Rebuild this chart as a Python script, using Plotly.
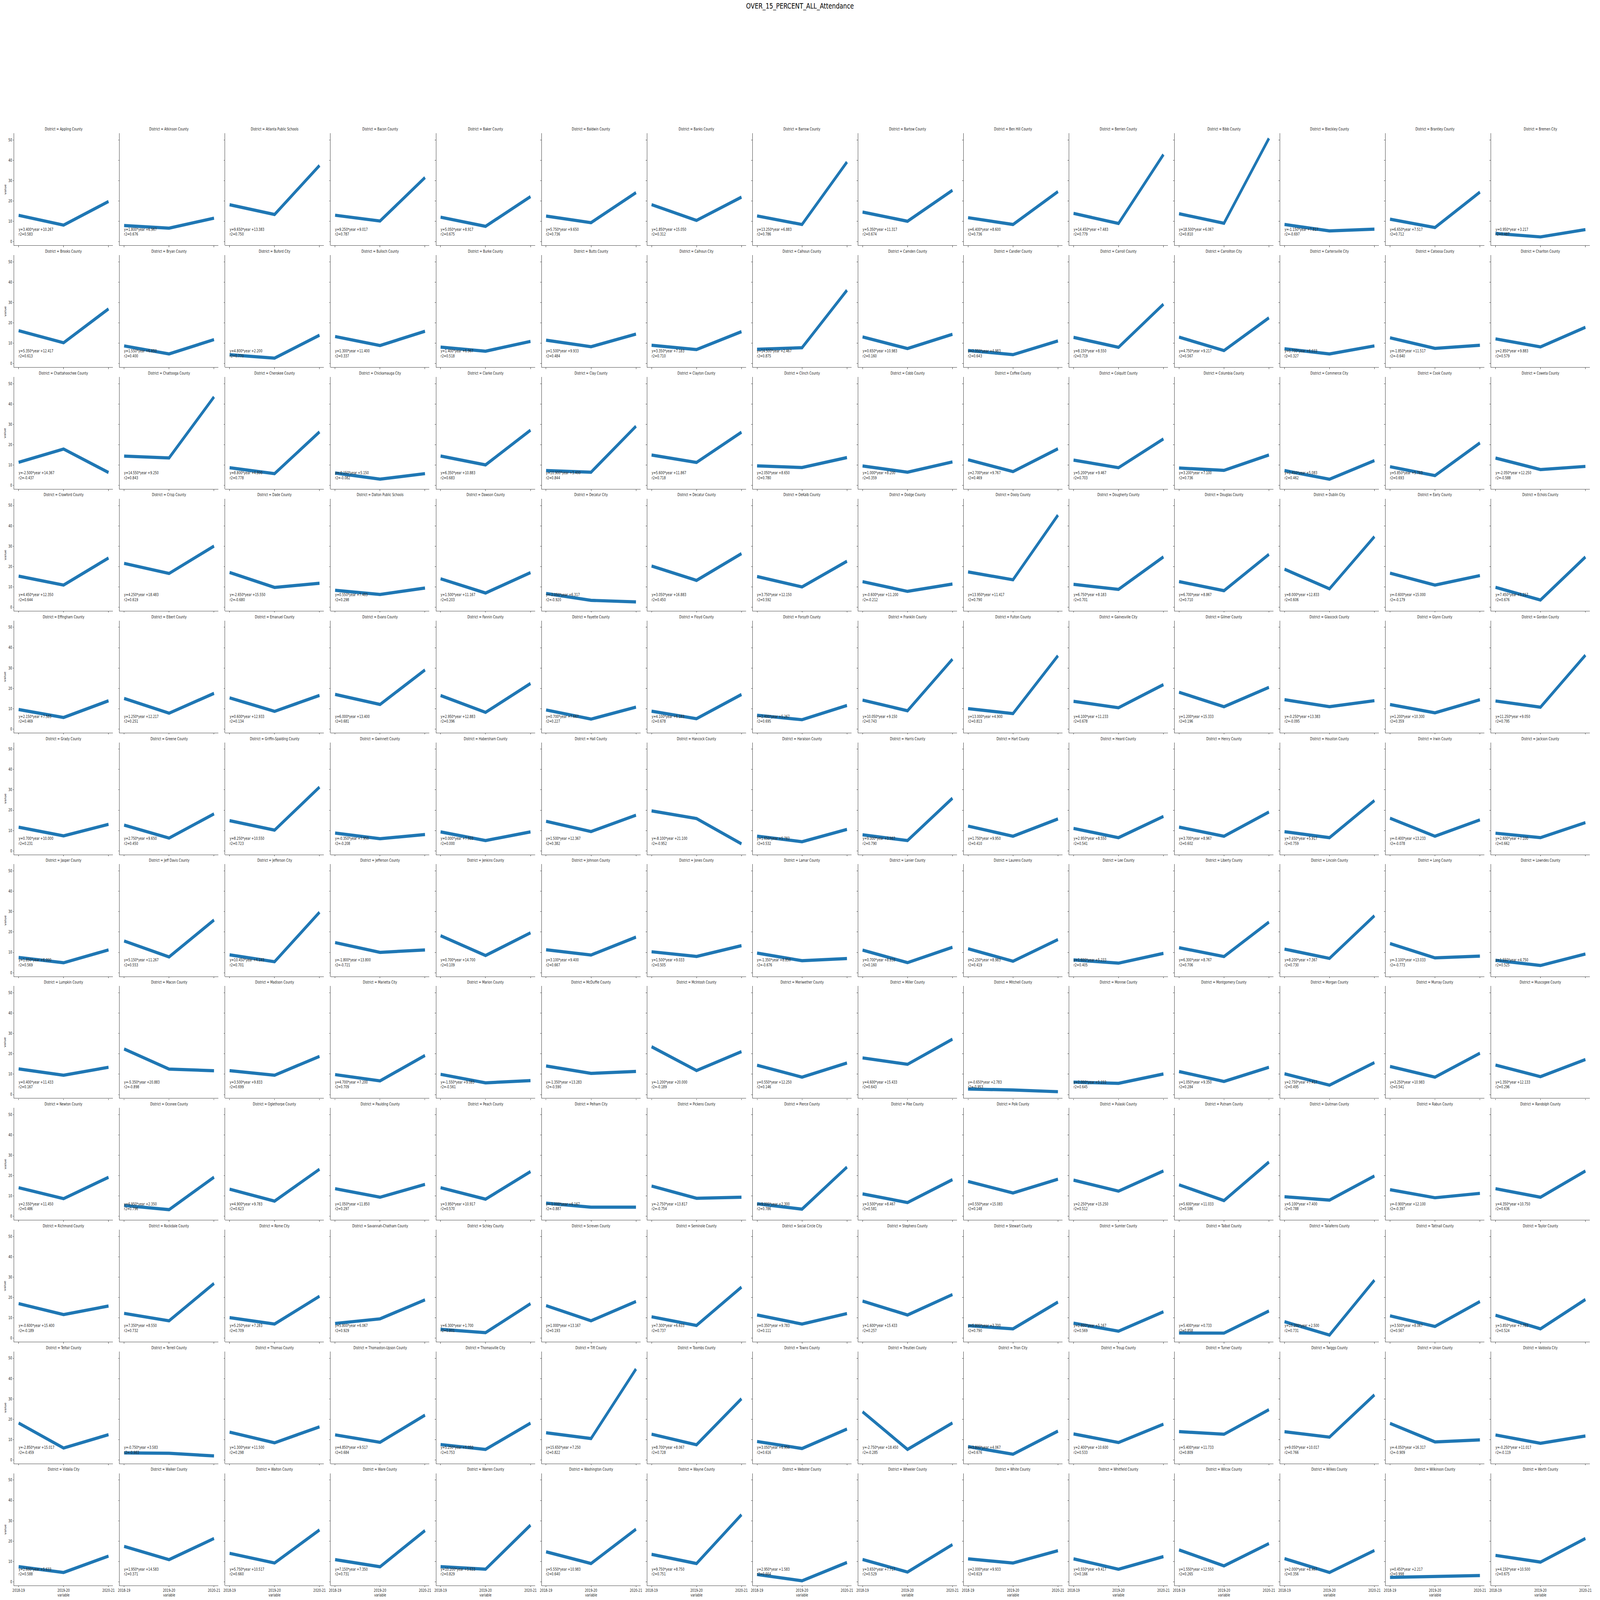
import plotly.graph_objects as go

title_text = "OVER_15_PERCENT_ALL_Attendance"
years = ["2018-19", "2019-20", "2020-21"]
y_ticks = [0, 10, 20, 30, 40, 50]

districts = [
    "Appling County", "Atkinson County", "Atlanta Public Schools", "Bacon County", "Baker County",
    "Baldwin County", "Banks County", "Barrow County", "Bartow County", "Ben Hill County",
    "Berrien County", "Bibb County", "Bleckley County", "Brantley County", "Bremen City",
    "Brooks County", "Bryan County", "Buford City", "Bulloch County", "Burke County",
    "Butts County", "Calhoun City", "Calhoun County", "Camden County", "Candler County",
    "Carroll County", "Carrollton City", "Cartersville City", "Catoosa County", "Charlton County",
    "Chattahoochee County", "Chattooga County", "Cherokee County", "Chickamauga City", "Clarke County",
    "Clay County", "Clayton County", "Clinch County", "Cobb County", "Coffee County",
    "Colquitt County", "Columbia County", "Commerce City", "Cook County", "Coweta County",
    "Crawford County", "Crisp County", "Dade County", "Dalton Public Schools", "Dawson County",
    "Decatur City", "Decatur County", "DeKalb County", "Dodge County", "Dooly County",
    "Dougherty County", "Douglas County", "Dublin City", "Early County", "Echols County",
    "Effingham County", "Elbert County", "Emanuel County", "Evans County", "Fannin County",
    "Fayette County", "Floyd County", "Forsyth County", "Franklin County", "Fulton County",
    "Gainesville City", "Gilmer County", "Glascock County", "Glynn County", "Gordon County",
    "Grady County", "Greene County", "Griffin-Spalding County", "Gwinnett County", "Habersham County",
    "Hall County", "Hancock County", "Haralson County", "Harris County", "Hart County",
    "Heard County", "Henry County", "Houston County", "Irwin County", "Jackson County",
    "Jasper County", "Jeff Davis County", "Jefferson City", "Jefferson County", "Jenkins County",
    "Johnson County", "Jones County", "Lamar County", "Lanier County", "Laurens County",
    "Lee County", "Liberty County", "Lincoln County", "Long County", "Lowndes County",
    "Lumpkin County", "Macon County", "Madison County", "Marietta City", "Marion County",
    "McDuffie County", "McIntosh County", "Meriwether County", "Miller County", "Mitchell County",
    "Monroe County", "Montgomery County", "Morgan County", "Murray County", "Muscogee County",
    "Newton County", "Oconee County", "Oglethorpe County", "Paulding County", "Peach County",
    "Pelham City", "Pickens County", "Pierce County", "Pike County", "Polk County",
    "Pulaski County", "Putnam County", "Quitman County", "Rabun County", "Randolph County",
    "Richmond County", "Rockdale County", "Rome City", "Savannah-Chatham County", "Schley County",
    "Screven County", "Seminole County", "Social Circle City", "Stephens County", "Stewart County",
    "Sumter County", "Talbot County", "Taliaferro County", "Tattnall County", "Taylor County",
    "Telfair County", "Terrell County", "Thomas County", "Thomaston-Upson County", "Thomasville City",
    "Tift County", "Toombs County", "Towns County", "Treutlen County", "Trion City",
    "Troup County", "Turner County", "Twiggs County", "Union County", "Valdosta City",
    "Vidalia City", "Walker County", "Walton County", "Ware County", "Warren County",
    "Washington County", "Wayne County", "Webster County", "Wheeler County", "White County",
    "Whitfield County", "Wilcox County", "Wilkes County", "Wilkinson County", "Worth County",
]

v_2018_19 = [
    13.0, 8.0, 18.2, 13.05, 12.1, 12.65, 18.25, 12.7, 14.6, 11.85, 13.95, 13.8, 8.5, 11.1, 4.1,
    16.2, 8.7, 4.35, 13.3, 8.1, 11.5, 9.0, 7.05, 13.1, 6.45, 12.9, 13.0, 7.3, 12.7, 12.15,
    11.35, 14.4, 8.7, 6.1, 14.45, 7.3, 14.95, 9.6, 9.55, 12.6, 12.45, 8.55, 7.3, 9.2, 13.45,
    15.3, 21.55, 17.1, 8.35, 14.0, 6.75, 20.25, 15.1, 12.6, 17.35, 11.25, 12.6, 18.7, 16.75, 9.8,
    9.6, 15.05, 15.35, 17.05, 16.5, 9.4, 8.8, 6.8, 14.25, 10.05, 13.65, 18.1, 14.45, 12.05, 13.8,
    11.65, 12.7, 14.85, 8.75, 9.35, 14.55, 19.65, 7.25, 7.9, 12.2, 11.05, 11.7, 9.45, 16.05, 8.7,
    7.5, 15.6, 8.8, 14.8, 18.2, 11.3, 10.3, 9.65, 11.1, 11.8, 6.3, 12.3, 11.6, 14.35, 6.1,
    12.6, 22.4, 11.75, 9.8, 9.95, 14.05, 23.5, 14.4, 18.0, 2.7, 6.1, 11.3, 10.2, 13.8, 14.5,
    14.1, 5.35, 13.35, 13.6, 14.1, 6.5, 14.9, 6.2, 11.05, 17.15, 17.8, 15.5, 9.65, 13.1, 13.6,
    17.0, 12.2, 10.1, 7.25, 4.35, 16.0, 10.5, 11.4, 18.25, 6.15, 7.4, 2.55, 8.1, 11.0, 11.3,
    18.15, 3.5, 13.7, 12.35, 7.6, 13.4, 12.7, 9.1, 23.7, 6.6, 12.8, 13.95, 13.9, 18.0, 12.3,
    7.45, 17.4, 14.0, 10.9, 7.45, 14.75, 13.5, 3.6, 11.0, 11.3, 11.3, 15.7, 11.4, 2.2, 13.0,
]

v_2019_20 = [
    8.2, 6.7, 13.4, 10.2, 7.6, 9.4, 10.5, 8.5, 10.1, 8.5, 9.0, 9.1, 5.35, 7.0, 2.4,
    10.25, 4.75, 2.7, 8.9, 6.1, 8.3, 6.9, 7.8, 7.4, 4.4, 8.0, 6.4, 4.75, 7.5, 8.2,
    17.9, 13.5, 5.8, 3.1, 10.1, 6.5, 11.3, 8.8, 6.5, 6.8, 8.7, 7.4, 3.05, 4.85, 7.8,
    10.9, 16.6, 9.75, 6.3, 7.0, 3.4, 13.2, 10.0, 7.8, 13.5, 8.8, 8.15, 9.05, 10.9, 3.55,
    5.7, 7.8, 8.7, 12.1, 8.2, 4.9, 5.1, 4.6, 9.0, 7.6, 10.5, 11.0, 11.0, 8.0, 10.75,
    7.4, 6.3, 10.2, 6.0, 5.1, 9.5, 15.9, 4.5, 5.1, 7.2, 6.5, 7.2, 6.5, 7.2, 6.5,
    4.9, 7.75, 5.4, 10.0, 8.45, 8.7, 8.0, 5.9, 4.95, 5.65, 4.7, 7.95, 7.05, 7.3, 3.55,
    9.5, 12.5, 9.5, 6.7, 5.75, 10.4, 11.8, 8.55, 14.85, 2.25, 5.5, 6.45, 4.6, 8.55, 8.8,
    8.7, 3.3, 7.5, 9.4, 8.45, 4.5, 8.9, 3.55, 6.8, 11.5, 12.4, 7.75, 8.0, 9.15, 9.4,
    11.6, 8.55, 6.95, 9.5, 2.7, 8.55, 6.25, 6.95, 11.4, 4.6, 3.45, 2.5, 1.55, 5.75, 4.6,
    5.9, 3.3, 8.45, 8.7, 5.2, 10.55, 7.5, 5.65, 5.2, 2.85, 8.6, 12.65, 11.25, 8.9, 8.2,
    4.6, 10.9, 9.25, 7.4, 6.2, 9.0, 9.0, 0.5, 4.8, 9.25, 6.2, 7.85, 4.6, 2.7, 9.7,
]

v_2020_21 = [
    19.8, 11.6, 37.5, 31.55, 22.2, 24.15, 21.95, 39.2, 25.3, 24.65, 42.85, 50.8, 6.2, 24.4, 6.0,
    26.9, 11.8, 13.95, 15.9, 10.9, 14.5, 15.7, 36.05, 14.4, 11.15, 29.2, 22.5, 8.7, 9.0, 17.85,
    6.35, 43.5, 26.3, 5.8, 27.15, 29.1, 26.15, 13.7, 11.55, 18.0, 22.85, 14.95, 12.2, 20.9, 9.35,
    24.2, 30.05, 11.8, 9.45, 17.0, 2.65, 26.35, 22.6, 11.4, 45.25, 24.75, 26.0, 34.7, 15.55, 24.7,
    13.9, 17.55, 16.55, 29.05, 22.4, 10.8, 17.0, 11.6, 34.35, 36.05, 21.85, 20.5, 13.95, 14.45, 36.3,
    13.05, 18.2, 31.35, 8.05, 9.35, 17.55, 3.45, 10.55, 25.9, 15.7, 16.95, 19.1, 24.75, 15.25, 13.9,
    11.2, 25.9, 29.7, 11.2, 19.6, 17.5, 13.3, 6.95, 12.5, 16.3, 9.5, 24.9, 28.0, 8.15, 9.2,
    13.4, 11.7, 18.75, 19.2, 6.85, 11.35, 21.1, 15.5, 27.2, 1.4, 10.1, 13.4, 15.7, 20.3, 17.2,
    19.2, 19.25, 23.15, 15.7, 22.0, 4.5, 9.4, 24.2, 18.05, 18.25, 22.3, 26.7, 19.85, 11.3, 22.3,
    15.8, 26.9, 20.6, 18.85, 16.95, 18.0, 25.1, 12.1, 21.45, 17.75, 13.0, 13.35, 28.5, 18.0, 19.0,
    12.45, 2.0, 16.3, 22.05, 18.1, 44.7, 30.1, 15.2, 18.2, 14.2, 17.6, 24.75, 32.0, 9.9, 11.8,
    12.65, 21.3, 25.5, 25.2, 27.85, 25.85, 33.0, 9.5, 18.3, 15.3, 12.4, 18.8, 15.4, 3.1, 21.3,
]

fit_slope = [
    3.400, 1.800, 9.650, 9.250, 5.050, 5.750, 1.850, 13.250, 5.350, 6.400, 14.450, 18.500, -1.150, 6.650, 0.950,
    5.350, 1.550, 4.800, 1.300, 1.400, 1.500, 3.350, 14.500, 0.650, 2.350, 8.150, 4.750, 0.700, -1.850, 2.850,
    -2.500, 14.550, 8.800, -0.150, 6.350, 10.900, 5.600, 2.050, 1.000, 2.700, 5.200, 3.200, 2.450, 5.850, -2.050,
    4.450, 4.250, -2.650, 0.550, 1.500, -2.050, 3.050, 3.750, -0.600, 13.950, 6.750, 6.700, 8.000, -0.600, 7.450,
    2.150, 1.250, 0.600, 6.000, 2.950, 0.700, 4.100, 2.400, 10.050, 13.000, 4.100, 1.200, -0.250, 1.200, 11.250,
    0.700, 2.750, 8.250, -0.350, 0.000, 1.500, -8.100, 1.650, 9.000, 1.750, 2.950, 3.700, 7.650, -0.400, 2.600,
    1.850, 5.150, 10.450, -1.800, 0.700, 3.100, 1.500, -1.350, 0.700, 2.250, 1.600, 6.300, 8.200, -3.100, 1.550,
    0.400, -5.350, 3.500, 4.700, -1.550, -1.350, -1.200, 0.550, 4.600, -0.650, 2.000, 1.050, 2.750, 3.250, 1.350,
    2.550, 6.950, 4.900, 1.050, 3.950, -1.000, -2.750, 9.000, 3.500, 0.550, 2.250, 5.600, 5.100, -0.900, 4.350,
    -0.600, 7.350, 5.250, 5.800, 6.300, 1.000, 7.300, 0.350, 1.600, 5.800, 2.800, 5.400, 10.200, 3.500, 3.850,
    -2.850, -0.750, 1.300, 4.850, 5.250, 15.650, 8.700, 3.050, -2.750, 3.800, 2.400, 5.400, 9.050, -4.050, -0.250,
    2.600, 1.950, 5.750, 7.150, 10.200, 5.550, 9.750, 2.950, 3.650, 2.000, 0.550, 1.550, 2.000, 0.450, 4.150,
]

fit_intercept = [
    10.267, 6.967, 13.383, 9.017, 8.917, 9.650, 15.050, 6.883, 11.317, 8.600, 7.483, 6.067, 7.817, 7.517, 3.217,
    12.417, 6.850, 2.200, 11.400, 6.967, 9.933, 7.183, 2.467, 10.983, 4.983, 8.550, 9.217, 6.033, 11.517, 9.883,
    14.367, 9.250, 4.800, 5.150, 10.883, 3.400, 11.867, 8.650, 8.200, 9.767, 9.467, 7.100, 5.083, 5.783, 12.250,
    12.350, 18.483, 15.550, 7.483, 11.167, 6.317, 16.883, 12.150, 11.200, 11.417, 8.183, 8.867, 12.833, 15.000, 5.217,
    7.583, 12.217, 12.933, 13.400, 12.883, 7.667, 6.183, 5.267, 9.150, 4.900, 11.233, 15.333, 13.383, 10.300, 9.050,
    10.000, 9.650, 10.550, 7.950, 7.933, 12.367, 21.100, 5.783, 3.967, 9.950, 8.550, 8.967, 5.917, 13.233, 7.100,
    6.000, 11.267, 4.183, 13.800, 14.700, 9.400, 9.033, 8.850, 8.833, 8.983, 5.233, 8.767, 7.367, 13.033, 4.750,
    11.433, 20.883, 9.833, 7.200, 9.083, 13.283, 20.000, 12.250, 15.433, 2.783, 5.233, 9.350, 7.417, 10.983, 12.133,
    11.450, 2.350, 9.783, 11.850, 10.917, 6.167, 13.817, 2.300, 8.467, 15.083, 15.250, 11.033, 7.400, 12.100, 10.750,
    15.400, 8.550, 7.283, 6.067, 1.700, 13.167, 6.633, 9.783, 15.433, 3.700, 5.167, 0.733, 2.500, 8.067, 7.783,
    15.017, 3.583, 11.500, 9.517, 5.050, 7.250, 8.067, 6.950, 18.450, 4.067, 10.600, 11.733, 10.017, 16.317, 11.017,
    5.633, 14.583, 10.517, 7.350, 3.633, 10.983, 8.750, 1.583, 7.717, 9.933, 9.417, 12.550, 8.467, 2.217, 10.500,
]

fit_r = [
    0.583, 0.676, 0.750, 0.787, 0.675, 0.736, 0.312, 0.786, 0.674, 0.736, 0.779, 0.810, -0.697, 0.712, 0.487,
    0.613, 0.400, 0.770, 0.337, 0.518, 0.484, 0.710, 0.875, 0.160, 0.643, 0.719, 0.567, 0.327, -0.640, 0.579,
    -0.437, 0.843, 0.778, -0.082, 0.683, 0.844, 0.718, 0.780, 0.359, 0.469, 0.703, 0.736, 0.462, 0.693, -0.588,
    0.644, 0.619, -0.680, 0.298, 0.203, -0.920, 0.450, 0.592, -0.212, 0.790, 0.701, 0.710, 0.606, -0.179, 0.676,
    0.469, 0.251, 0.134, 0.681, 0.396, 0.227, 0.678, 0.695, 0.743, 0.813, 0.678, 0.196, -0.095, 0.359, 0.795,
    0.231, 0.450, 0.723, -0.208, 0.000, 0.382, -0.952, 0.532, 0.790, 0.410, 0.541, 0.602, 0.759, -0.078, 0.662,
    0.569, 0.553, 0.701, -0.721, 0.109, 0.667, 0.505, -0.676, 0.160, 0.419, 0.405, 0.706, 0.730, -0.773, 0.525,
    0.167, -0.898, 0.699, 0.709, -0.561, -0.590, -0.189, 0.146, 0.643, -0.953, 0.645, 0.284, 0.495, 0.541, 0.296,
    0.486, 0.796, 0.623, 0.297, 0.570, -0.887, -0.754, 0.786, 0.581, 0.148, 0.512, 0.586, 0.788, -0.397, 0.636,
    -0.189, 0.732, 0.709, 0.929, 0.801, 0.193, 0.737, 0.111, 0.257, 0.790, 0.569, 0.858, 0.731, 0.567, 0.524,
    -0.459, -0.983, 0.298, 0.684, 0.753, 0.822, 0.728, 0.616, -0.285, 0.676, 0.533, 0.809, 0.766, -0.909, -0.119,
    0.588, 0.371, 0.660, 0.731, 0.829, 0.640, 0.751, 0.664, 0.529, 0.619, 0.166, 0.265, 0.356, 0.998, 0.675,
]

# ---------------- layout geometry (pixels of the reference canvas) ----------------
W, H = 5392, 4237
NCOL = 15
AX_L0, AX_W, COL_PITCH = 41.7, 334.0, 356.3
AX_T0, AX_H, ROW_PITCH = 353.0, 297.0, 322.6
Y_RANGE = [-1.8, 53.3]
X_RANGE = [-0.1, 2.1]
LINE_COLOR = "#1f77b4"
AXIS_COLOR = "#262626"
FONT = "DejaVu Sans"


def px(x):
    return x / W


def py(y):
    return 1 - y / H


fig = go.Figure()
layout = {}
annotations = []
n = len(districts)
nrows = (n + NCOL - 1) // NCOL

for i, name in enumerate(districts):
    r, c = divmod(i, NCOL)
    k = i + 1
    xa = "x" if k == 1 else f"x{k}"
    ya = "y" if k == 1 else f"y{k}"
    xkey = "xaxis" if k == 1 else f"xaxis{k}"
    ykey = "yaxis" if k == 1 else f"yaxis{k}"
    left = AX_L0 + c * COL_PITCH
    top = AX_T0 + r * ROW_PITCH

    fig.add_trace(go.Scatter(
        x=years, y=[v_2018_19[i], v_2019_20[i], v_2020_21[i]],
        mode="lines", line=dict(color=LINE_COLOR, width=8.5),
        xaxis=xa, yaxis=ya, showlegend=False, hoverinfo="skip",
    ))

    last_row = (r == nrows - 1)
    layout[xkey] = dict(
        domain=[px(left), px(left + AX_W)], anchor=ya,
        type="category", categoryorder="array", categoryarray=years,
        range=X_RANGE, showline=True, linecolor=AXIS_COLOR, linewidth=1.25,
        ticks="outside", ticklen=3.5, tickwidth=1, tickcolor=AXIS_COLOR,
        showticklabels=last_row, showgrid=False, zeroline=False,
        tickfont=dict(family=FONT, size=10, color=AXIS_COLOR),
        fixedrange=True,
    )
    layout[ykey] = dict(
        domain=[py(top + AX_H), py(top)], anchor=xa,
        range=Y_RANGE, tickvals=y_ticks, showline=True, linecolor=AXIS_COLOR,
        linewidth=1.25, ticks="outside", ticklen=3.5, tickwidth=1,
        tickcolor=AXIS_COLOR, showticklabels=(c == 0), showgrid=False,
        zeroline=False, tickfont=dict(family=FONT, size=10, color=AXIS_COLOR),
        fixedrange=True,
    )

    annotations.append(dict(
        text=f"District = {name}", xref="paper", yref="paper",
        x=px(left + AX_W / 2), y=py(top - 10), xanchor="center", yanchor="middle",
        showarrow=False, font=dict(family=FONT, size=10, color=AXIS_COLOR),
    ))
    annotations.append(dict(
        text=f"y={fit_slope[i]:.3f}*year +{fit_intercept[i]:.3f}<br>r2={fit_r[i]:.3f}",
        xref=xa, yref=ya, x=0, y=4.9, xanchor="left", yanchor="middle",
        align="left", showarrow=False, xshift=-2,
        font=dict(family=FONT, size=10, color=AXIS_COLOR),
    ))

for r in range(nrows):
    top = AX_T0 + r * ROW_PITCH
    annotations.append(dict(
        text="value", xref="paper", yref="paper", x=px(11), y=py(top + AX_H / 2),
        xanchor="center", yanchor="middle", textangle=-90, showarrow=False,
        font=dict(family=FONT, size=10, color=AXIS_COLOR),
    ))
for c in range(NCOL):
    left = AX_L0 + c * COL_PITCH
    annotations.append(dict(
        text="variable", xref="paper", yref="paper", x=px(left + AX_W / 2), y=py(4224),
        xanchor="center", yanchor="middle", showarrow=False,
        font=dict(family=FONT, size=10, color=AXIS_COLOR),
    ))

fig.update_layout(
    width=W, height=H, autosize=False,
    margin=dict(l=0, r=0, t=0, b=0, pad=0),
    paper_bgcolor="white", plot_bgcolor="white",
    title=dict(text=title_text, x=0.5, xanchor="center", y=py(16), yanchor="middle",
               font=dict(family=FONT, size=20, color="black")),
    annotations=annotations,
    showlegend=False,
    **layout,
)

# Fit the fixed-size canvas into whatever viewport the page is actually shown in.
post_js = """
var gd = document.getElementById('{plot_id}');
document.documentElement.style.margin = '0';
document.body.style.margin = '0';
document.body.style.overflow = 'hidden';
var vw = window.innerWidth, vh = window.innerHeight;
gd.style.transformOrigin = '0 0';
gd.style.transform = 'scale(' + (vw / %d) + ',' + (vh / %d) + ')';
""" % (W, H)

fig.write_html("out.html", post_script=post_js, config={"displayModeBar": False})
